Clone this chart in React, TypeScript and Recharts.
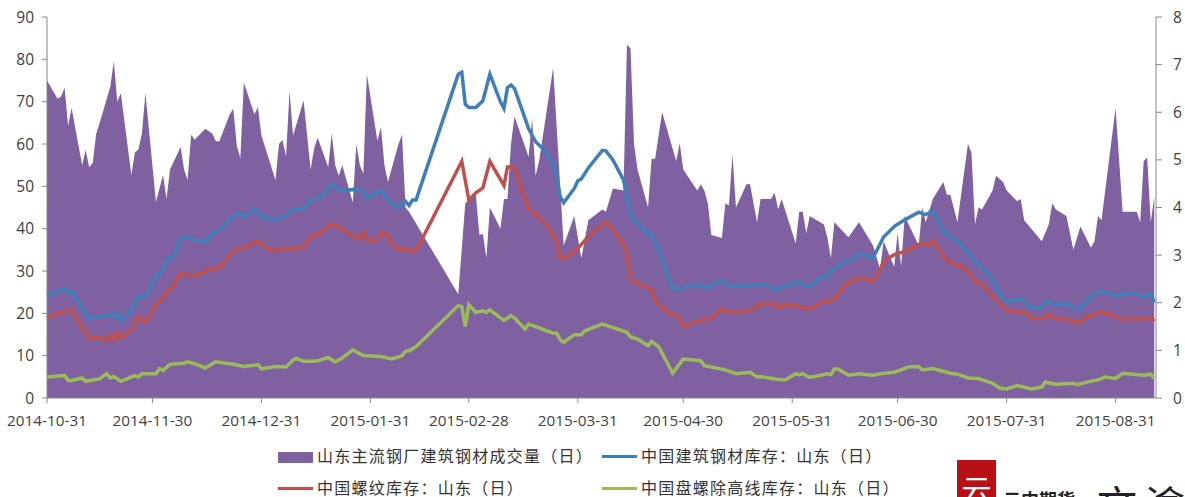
import { Area, ComposedChart, Line, XAxis, YAxis } from "recharts";

type Point = [number, number];

// [days since 2014-10-31, value]
const volume: Point[] = [
  [0, 75], [3, 70.7], [4, 71.2], [5, 73.3], [6, 64.3], [7, 68.5], [10, 55], [11, 58.5], [12, 54.5], [13, 55.5],
  [14, 62.5], [15, 65], [18, 73.5], [19, 79.5], [20, 70], [21, 72], [24, 52.7], [25, 58], [26, 58.7], [27, 62.5],
  [28, 72], [31, 46.3], [33, 52.7], [34, 47], [35, 54], [38, 59.3], [39, 54], [40, 51.5], [41, 62.2], [42, 61],
  [45, 63.6], [47, 62.5], [48, 60.7], [49, 60.6], [52, 67], [53, 68.3], [54, 59.5], [55, 56.7], [56, 74.5], [59, 67],
  [60, 68.7], [61, 62], [65, 51.5], [66, 60], [67, 61], [68, 57], [69, 72.5], [70, 62], [73, 70.3], [75, 54],
  [76, 59], [77, 61.5], [80, 54.5], [81, 62.5], [82, 55], [83, 52.5], [84, 55], [87, 46.2], [88, 60], [89, 55],
  [90, 53], [91, 76.5], [94, 60.7], [95, 64], [96, 55], [97, 51], [100, 60], [101, 62.2], [102, 45], [103, 44],
  [117, 24.5], [119, 46], [122, 48], [123, 38.5], [124, 38.8], [125, 33], [126, 45], [129, 40], [130, 47], [131, 47],
  [132, 60], [133, 66.5], [137, 57], [138, 66], [139, 52.5], [140, 56], [144, 78], [147, 36], [150, 43], [152, 33],
  [154, 42], [158, 44.5], [159, 44], [161, 49.5], [164, 49], [165, 83.5], [166, 82.5], [167, 60], [168, 54], [171, 45],
  [172, 56.5], [173, 56.5], [175, 67.5], [179, 56], [180, 60.2], [181, 54], [185, 49], [186, 50.5], [187, 49], [188, 46],
  [189, 38.5], [192, 37.8], [193, 46], [194, 45.5], [195, 57.5], [196, 45], [199, 50.5], [200, 50.5], [202, 41.5], [203, 47],
  [206, 47], [207, 48.5], [208, 44.5], [209, 47], [213, 36.5], [214, 44], [215, 44], [216, 39], [217, 43], [221, 41],
  [222, 38], [223, 33], [224, 41.5], [228, 38], [231, 41.5], [235, 36], [237, 30.5], [238, 37], [241, 31], [242, 39],
  [243, 31], [244, 43], [248, 36], [249, 45], [250, 41.5], [252, 47], [255, 51], [256, 48], [257, 48], [259, 41.5],
  [262, 60], [263, 58], [264, 41], [265, 45], [266, 44.5], [269, 49], [270, 52.5], [272, 51], [273, 49], [276, 46.5],
  [277, 47], [278, 42], [283, 37], [284, 39], [285, 41], [286, 46], [287, 44.5], [290, 43], [292, 35], [294, 40.5],
  [297, 35.5], [298, 37], [299, 43], [300, 42], [304, 68.5], [306, 44], [310, 44], [311, 41.5], [312, 56], [313, 56.8],
  [314, 41.5], [315, 47.5],
];

const rebarAll: Point[] = [
  [0, 2.15], [3, 2.24], [5, 2.29], [6, 2.2], [7, 2.24], [10, 1.89], [12, 1.66], [15, 1.71], [18, 1.75], [19, 1.7],
  [20, 1.78], [21, 1.61], [24, 1.85], [26, 2.15], [28, 2.13], [31, 2.55], [33, 2.69], [34, 2.9], [36, 2.97], [38, 3.36],
  [39, 3.38], [45, 3.27], [47, 3.44], [49, 3.53], [54, 3.88], [56, 3.8], [59, 3.97], [61, 3.81], [65, 3.74], [67, 3.8],
  [70, 3.95], [73, 3.97], [75, 4.16], [78, 4.23], [81, 4.48], [84, 4.34], [87, 4.38], [90, 4.34], [91, 4.2], [95, 4.36],
  [97, 4.16], [100, 3.99], [102, 4.13], [103, 4.04], [104, 4.16], [105, 4.16], [117, 6.8], [118, 6.84], [119, 6.17], [120, 6.1],
  [122, 6.1], [124, 6.24], [126, 6.8], [129, 6.22], [130, 6.08], [131, 6.52], [132, 6.57], [133, 6.5], [137, 5.66], [139, 5.38],
  [141, 5.24], [144, 4.93], [145, 4.65], [146, 4.23], [147, 4.1], [150, 4.4], [151, 4.56], [152, 4.6], [154, 4.83], [158, 5.2],
  [159, 5.19], [161, 5.0], [164, 4.58], [165, 4.23], [166, 3.81], [168, 3.67], [171, 3.43], [172, 3.43], [174, 3.11], [178, 2.29],
  [182, 2.33], [185, 2.38], [188, 2.31], [190, 2.41], [192, 2.46], [194, 2.34], [200, 2.36], [204, 2.39], [207, 2.27], [213, 2.43],
  [214, 2.41], [217, 2.33], [220, 2.54], [222, 2.55], [223, 2.66], [227, 2.87], [229, 2.9], [231, 3.04], [235, 2.94], [238, 3.38],
  [241, 3.6], [244, 3.74], [248, 3.9], [250, 3.85], [252, 3.94], [255, 3.5], [260, 3.22], [264, 2.87], [268, 2.59], [270, 2.34],
  [272, 2.06], [273, 2.03], [277, 2.08], [280, 1.89], [283, 1.91], [284, 2.04], [287, 1.96], [290, 1.98], [293, 1.85], [299, 2.25],
  [305, 2.13], [306, 2.2], [310, 2.19], [312, 2.13], [314, 2.2], [315, 2.01],
];

const rebarThread: Point[] = [
  [0, 1.68], [3, 1.77], [5, 1.82], [7, 1.84], [10, 1.47], [12, 1.26], [15, 1.27], [17, 1.21], [18, 1.31], [19, 1.22],
  [20, 1.38], [21, 1.26], [24, 1.43], [26, 1.7], [28, 1.59], [31, 1.98], [32, 2.0], [34, 2.24], [35, 2.26], [38, 2.62],
  [41, 2.57], [45, 2.64], [46, 2.71], [49, 2.73], [52, 3.0], [54, 3.13], [56, 3.15], [60, 3.29], [62, 3.17], [65, 3.08],
  [67, 3.13], [69, 3.15], [70, 3.11], [72, 3.18], [73, 3.17], [75, 3.39], [77, 3.43], [80, 3.62], [82, 3.64], [85, 3.48],
  [89, 3.34], [90, 3.48], [91, 3.31], [94, 3.32], [95, 3.48], [97, 3.41], [98, 3.22], [100, 3.11], [101, 3.11], [102, 3.15],
  [103, 3.08], [105, 3.09], [118, 4.97], [120, 4.16], [122, 4.31], [124, 4.41], [126, 4.97], [130, 4.46], [131, 4.85], [133, 4.85],
  [135, 4.37], [137, 3.97], [139, 3.85], [143, 3.55], [145, 3.25], [146, 2.94], [147, 2.92], [150, 3.08], [152, 3.22], [154, 3.39],
  [157, 3.6], [159, 3.69], [161, 3.53], [164, 3.22], [165, 2.97], [166, 2.52], [167, 2.45], [172, 2.27], [173, 2.06], [175, 1.89],
  [177, 1.78], [180, 1.68], [181, 1.49], [185, 1.61], [189, 1.68], [192, 1.87], [194, 1.8], [200, 1.83], [203, 1.98], [207, 1.98],
  [208, 1.89], [210, 1.97], [214, 1.91], [217, 1.87], [220, 1.99], [224, 2.08], [227, 2.38], [231, 2.52], [235, 2.45], [237, 2.69],
  [238, 2.87], [241, 3.01], [245, 3.1], [248, 3.23], [251, 3.23], [252, 3.31], [255, 2.97], [257, 2.83], [259, 2.8], [262, 2.66],
  [264, 2.45], [266, 2.38], [270, 2.06], [272, 1.92], [273, 1.83], [278, 1.8], [280, 1.68], [283, 1.66], [285, 1.75], [287, 1.66],
  [290, 1.66], [293, 1.57], [296, 1.7], [300, 1.82], [304, 1.71], [305, 1.66], [312, 1.66], [314, 1.68], [315, 1.61],
];

const wireRod: Point[] = [
  [0, 0.44], [5, 0.47], [6, 0.37], [7, 0.37], [10, 0.42], [11, 0.35], [15, 0.4], [17, 0.51], [18, 0.42], [19, 0.45],
  [21, 0.35], [25, 0.47], [26, 0.44], [27, 0.51], [31, 0.51], [32, 0.62], [33, 0.58], [35, 0.71], [39, 0.73], [40, 0.76],
  [42, 0.72], [45, 0.63], [48, 0.76], [53, 0.71], [56, 0.66], [60, 0.7], [61, 0.61], [65, 0.66], [68, 0.65], [70, 0.8],
  [71, 0.83], [73, 0.77], [76, 0.77], [77, 0.78], [80, 0.85], [82, 0.76], [84, 0.84], [87, 1.01], [90, 0.89], [95, 0.87],
  [98, 0.82], [100, 0.86], [101, 0.89], [102, 0.98], [103, 0.99], [105, 1.08], [117, 1.94], [118, 1.92], [119, 1.5], [120, 1.96],
  [122, 1.8], [124, 1.83], [125, 1.8], [126, 1.85], [130, 1.63], [132, 1.73], [133, 1.68], [136, 1.45], [137, 1.55], [139, 1.5],
  [144, 1.36], [145, 1.36], [146, 1.22], [147, 1.17], [150, 1.33], [152, 1.33], [153, 1.41], [158, 1.55], [165, 1.38], [166, 1.28],
  [168, 1.24], [171, 1.1], [172, 1.19], [174, 1.08], [178, 0.52], [181, 0.82], [186, 0.78], [187, 0.68], [193, 0.59], [196, 0.51],
  [200, 0.54], [202, 0.44], [203, 0.45], [207, 0.4], [210, 0.38], [213, 0.51], [214, 0.49], [215, 0.51], [217, 0.43], [222, 0.51],
  [223, 0.49], [224, 0.61], [225, 0.61], [228, 0.48], [231, 0.51], [235, 0.48], [237, 0.51], [241, 0.54], [243, 0.59], [245, 0.65],
  [248, 0.66], [249, 0.59], [252, 0.62], [257, 0.52], [259, 0.5], [262, 0.42], [265, 0.41], [269, 0.31], [271, 0.21], [273, 0.19],
  [276, 0.26], [280, 0.19], [283, 0.23], [284, 0.33], [287, 0.29], [292, 0.31], [293, 0.28], [298, 0.37], [299, 0.38], [301, 0.44],
  [304, 0.41], [306, 0.52], [309, 0.5], [312, 0.48], [314, 0.5], [315, 0.41],
];

const xTickLabels = [
  "2014-10-31", "2014-11-30", "2014-12-31", "2015-01-31", "2015-02-28", "2015-03-31",
  "2015-04-30", "2015-05-31", "2015-06-30", "2015-07-31", "2015-08-31",
];
const leftTicks = [0, 10, 20, 30, 40, 50, 60, 70, 80, 90];
const rightTicks = [0, 1, 2, 3, 4, 5, 6, 7, 8];

const VOLUME_NAME = "山东主流钢厂建筑钢材成交量（日）";
const REBAR_ALL_NAME = "中国建筑钢材库存：山东（日）";
const THREAD_NAME = "中国螺纹库存：山东（日）";
const WIRE_NAME = "中国盘螺除高线库存：山东（日）";

const PURPLE = "#7f60a0";
const BLUE = "#3f7fb9";
const RED = "#c0504d";
const GREEN = "#9bbb59";
const AXIS = "#868686";
const TEXT = "#404040";

const FONT = '"Open Sans", "Noto Sans", sans-serif';
const CJK = '"Noto Sans CJK SC", sans-serif';

const base = Date.UTC(2014, 9, 31);
const dayOf = (s: string) => (new Date(s + "T00:00:00Z").getTime() - base) / 86400000;
const labelOf = (d: number) => new Date(base + d * 86400000).toISOString().slice(0, 10);

const xTicks = xTickLabels.map(dayOf);

function buildTable() {
  const rows = new Map<number, Record<string, number>>();
  const add = (key: string, pts: Point[]) => {
    pts.forEach(([day, v]) => {
      const row = rows.get(day) ?? { day };
      row[key] = v;
      rows.set(day, row);
    });
  };
  add("volume", volume);
  add("rebarAll", rebarAll);
  add("thread", rebarThread);
  add("wire", wireRod);
  return [...rows.values()].sort((a, b) => a.day - b.day);
}

const tableData = buildTable();

function LegendItem({ x, y, color, name, thick }: { x: number; y: number; color: string; name: string; thick?: boolean }) {
  return (
    <div style={{ position: "absolute", left: x, top: y, height: 18, display: "flex", alignItems: "center" }}>
      <span style={{ width: 35, height: thick ? 11 : 3, background: color, marginRight: 4, marginTop: thick ? 4 : 2 }} />
      <span style={{ fontFamily: CJK, fontSize: 16, lineHeight: "18px", letterSpacing: 1.25, color: "#333", whiteSpace: "nowrap" }}>{name}</span>
    </div>
  );
}

export default function App() {
  return (
    <div style={{ position: "absolute", left: 0, top: 0, width: 1185, height: 497, overflow: "hidden", background: "#fff" }}>
      <ComposedChart
        width={1185}
        height={497}
        data={tableData}
        margin={{ top: 17, right: 0, bottom: 69, left: 0 }}
      >
        <XAxis
          dataKey="day"
          type="number"
          domain={[0, 315.5]}
          ticks={xTicks}
          tickFormatter={labelOf}
          interval={0}
          height={30}
          stroke={AXIS}
          tickSize={5}
          tickMargin={12}
          tick={{ fill: TEXT, fontSize: 15.3, fontFamily: FONT }}
        />
        <YAxis
          yAxisId="left"
          domain={[0, 90]}
          ticks={leftTicks}
          interval={0}
          width={47}
          stroke={AXIS}
          tickSize={5}
          tickMargin={8}
          tick={{ fill: TEXT, fontSize: 15.5, fontFamily: FONT }}
        />
        <YAxis
          yAxisId="right"
          orientation="right"
          domain={[0, 8]}
          ticks={rightTicks}
          interval={0}
          width={29}
          stroke={AXIS}
          tickSize={6}
          tickMargin={11}
          tick={{ fill: TEXT, fontSize: 15.5, fontFamily: FONT }}
        />
        <Area
          yAxisId="left"
          dataKey="volume"
          type="linear"
          fill={PURPLE}
          fillOpacity={1}
          stroke="none"
          connectNulls
          isAnimationActive={false}
        />
        <Line yAxisId="right" dataKey="rebarAll" type="linear" stroke={BLUE} strokeWidth={3.5} dot={false} connectNulls isAnimationActive={false} />
        <Line yAxisId="right" dataKey="thread" type="linear" stroke={RED} strokeWidth={3.5} dot={false} connectNulls isAnimationActive={false} />
        <Line yAxisId="right" dataKey="wire" type="linear" stroke={GREEN} strokeWidth={3.5} dot={false} connectNulls isAnimationActive={false} />
      </ComposedChart>

      <LegendItem x={278} y={446} color={PURPLE} name={VOLUME_NAME} thick />
      <LegendItem x={602} y={446} color={BLUE} name={REBAR_ALL_NAME} />
      <LegendItem x={278} y={478} color={RED} name={THREAD_NAME} />
      <LegendItem x={602} y={478} color={GREEN} name={WIRE_NAME} />

      <div style={{ position: "absolute", left: 957, top: 460, width: 39, height: 37, overflow: "hidden", background: "#b81014", color: "#fff", fontFamily: CJK, fontSize: 30, lineHeight: "56px", textAlign: "center" }}>
        云
      </div>
      <div style={{ position: "absolute", left: 1003, top: 486, fontFamily: CJK, fontWeight: 700, fontSize: 18, color: "#222", whiteSpace: "nowrap" }}>
        云中期货
      </div>
      <div style={{ position: "absolute", left: 1097, top: 478, fontFamily: CJK, fontSize: 40, lineHeight: "50px", letterSpacing: 8, color: "#222", whiteSpace: "nowrap" }}>
        文渝
      </div>
    </div>
  );
}
